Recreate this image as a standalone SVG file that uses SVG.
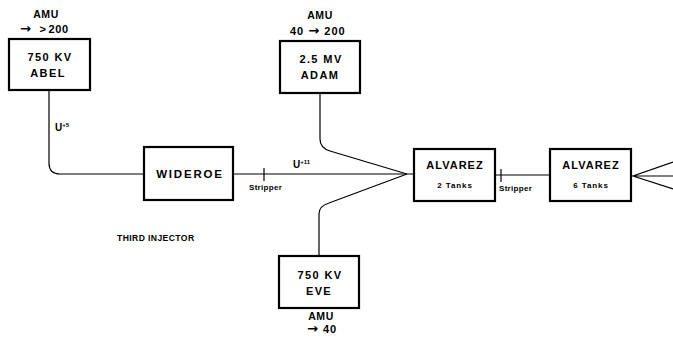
<svg xmlns="http://www.w3.org/2000/svg" width="673" height="337" viewBox="0 0 673 337">
<style>
.box{fill:#fff;stroke:#000;stroke-width:2.2}
.ln{fill:none;stroke:#000;stroke-width:1.2}
text{font-family:"Liberation Sans",Arial,sans-serif;font-weight:bold;fill:#000}
.big{font-size:11px;letter-spacing:1.4px;text-anchor:middle}
.amu{font-size:10.5px;letter-spacing:0.6px;text-anchor:middle}
.sm{font-size:8px;letter-spacing:0.9px;text-anchor:middle}
.st{font-size:8px;letter-spacing:0.3px}
.ar{font-family:"DejaVu Sans",sans-serif;font-size:13px;font-weight:bold}
</style>
<rect width="673" height="337" fill="#fff"/>
<g id="connectors">
<path class="ln" d="M49,90 V163 Q49,174 60,174 H144"/>
<path class="ln" d="M233,174 H414"/>
<path class="ln" d="M264,168 V181" stroke-width="1.6"/>
<path class="ln" d="M320,93 V139 Q320,148 330,151 L407,174"/>
<path class="ln" d="M319,256 V214 Q319,206 329,203 L407,174"/>
<path class="ln" d="M495,175 H550"/>
<path class="ln" d="M501,169 V182" stroke-width="1.6"/>
<path class="ln" d="M673,162 L633,176 L673,189 M633,176 H673"/>
</g>
<g id="abel">
<rect class="box" x="9" y="39" width="81" height="51"/>
<text class="amu" x="46" y="18">AMU</text>
<text x="20" y="33" style="font-size:11px;letter-spacing:0.6px"><tspan class="ar">→</tspan><tspan dx="8">&gt;</tspan><tspan dx="2">200</tspan></text>
<text class="big" x="50" y="61">750 KV</text>
<text class="big" x="48" y="77">ABEL</text>
</g>
<text x="55" y="131" style="font-size:10px">U<tspan dy="-4" style="font-size:6px">+5</tspan></text>
<g id="wideroe">
<rect class="box" x="144" y="147" width="89" height="53"/>
<text class="big" x="190" y="178" style="font-size:11.5px;letter-spacing:1.8px">WIDEROE</text>
</g>
<g id="adam">
<rect class="box" x="280" y="41" width="80" height="52"/>
<text class="amu" x="320" y="19">AMU</text>
<text x="290" y="35" style="font-size:11px;letter-spacing:1px">40 <tspan class="ar">→</tspan> 200</text>
<text class="big" x="321" y="63">2.5 MV</text>
<text class="big" x="320" y="79">ADAM</text>
</g>
<text x="293" y="168" style="font-size:10px">U<tspan dy="-4" style="font-size:6px">+11</tspan></text>
<text class="st" x="249" y="190">Stripper</text>
<g id="alvarez1">
<rect class="box" x="414" y="149" width="81" height="52"/>
<text class="big" x="455" y="169" style="letter-spacing:1px">ALVAREZ</text>
<text class="sm" x="455" y="188">2 Tanks</text>
</g>
<text class="st" x="499" y="191">Stripper</text>
<g id="alvarez2">
<rect class="box" x="550" y="149" width="81" height="52"/>
<text class="big" x="591" y="169" style="letter-spacing:1px">ALVAREZ</text>
<text class="sm" x="591" y="188">6 Tanks</text>
</g>
<text x="117" y="241" style="font-size:8.6px;letter-spacing:0.4px">THIRD INJECTOR</text>
<g id="eve">
<rect class="box" x="279" y="256" width="80" height="52"/>
<text class="big" x="320" y="279">750 KV</text>
<text class="big" x="319" y="295">EVE</text>
<text class="amu" x="321" y="320">AMU</text>
<text x="307" y="333" style="font-size:11px;letter-spacing:1px"><tspan class="ar">→</tspan> 40</text>
</g>
</svg>
